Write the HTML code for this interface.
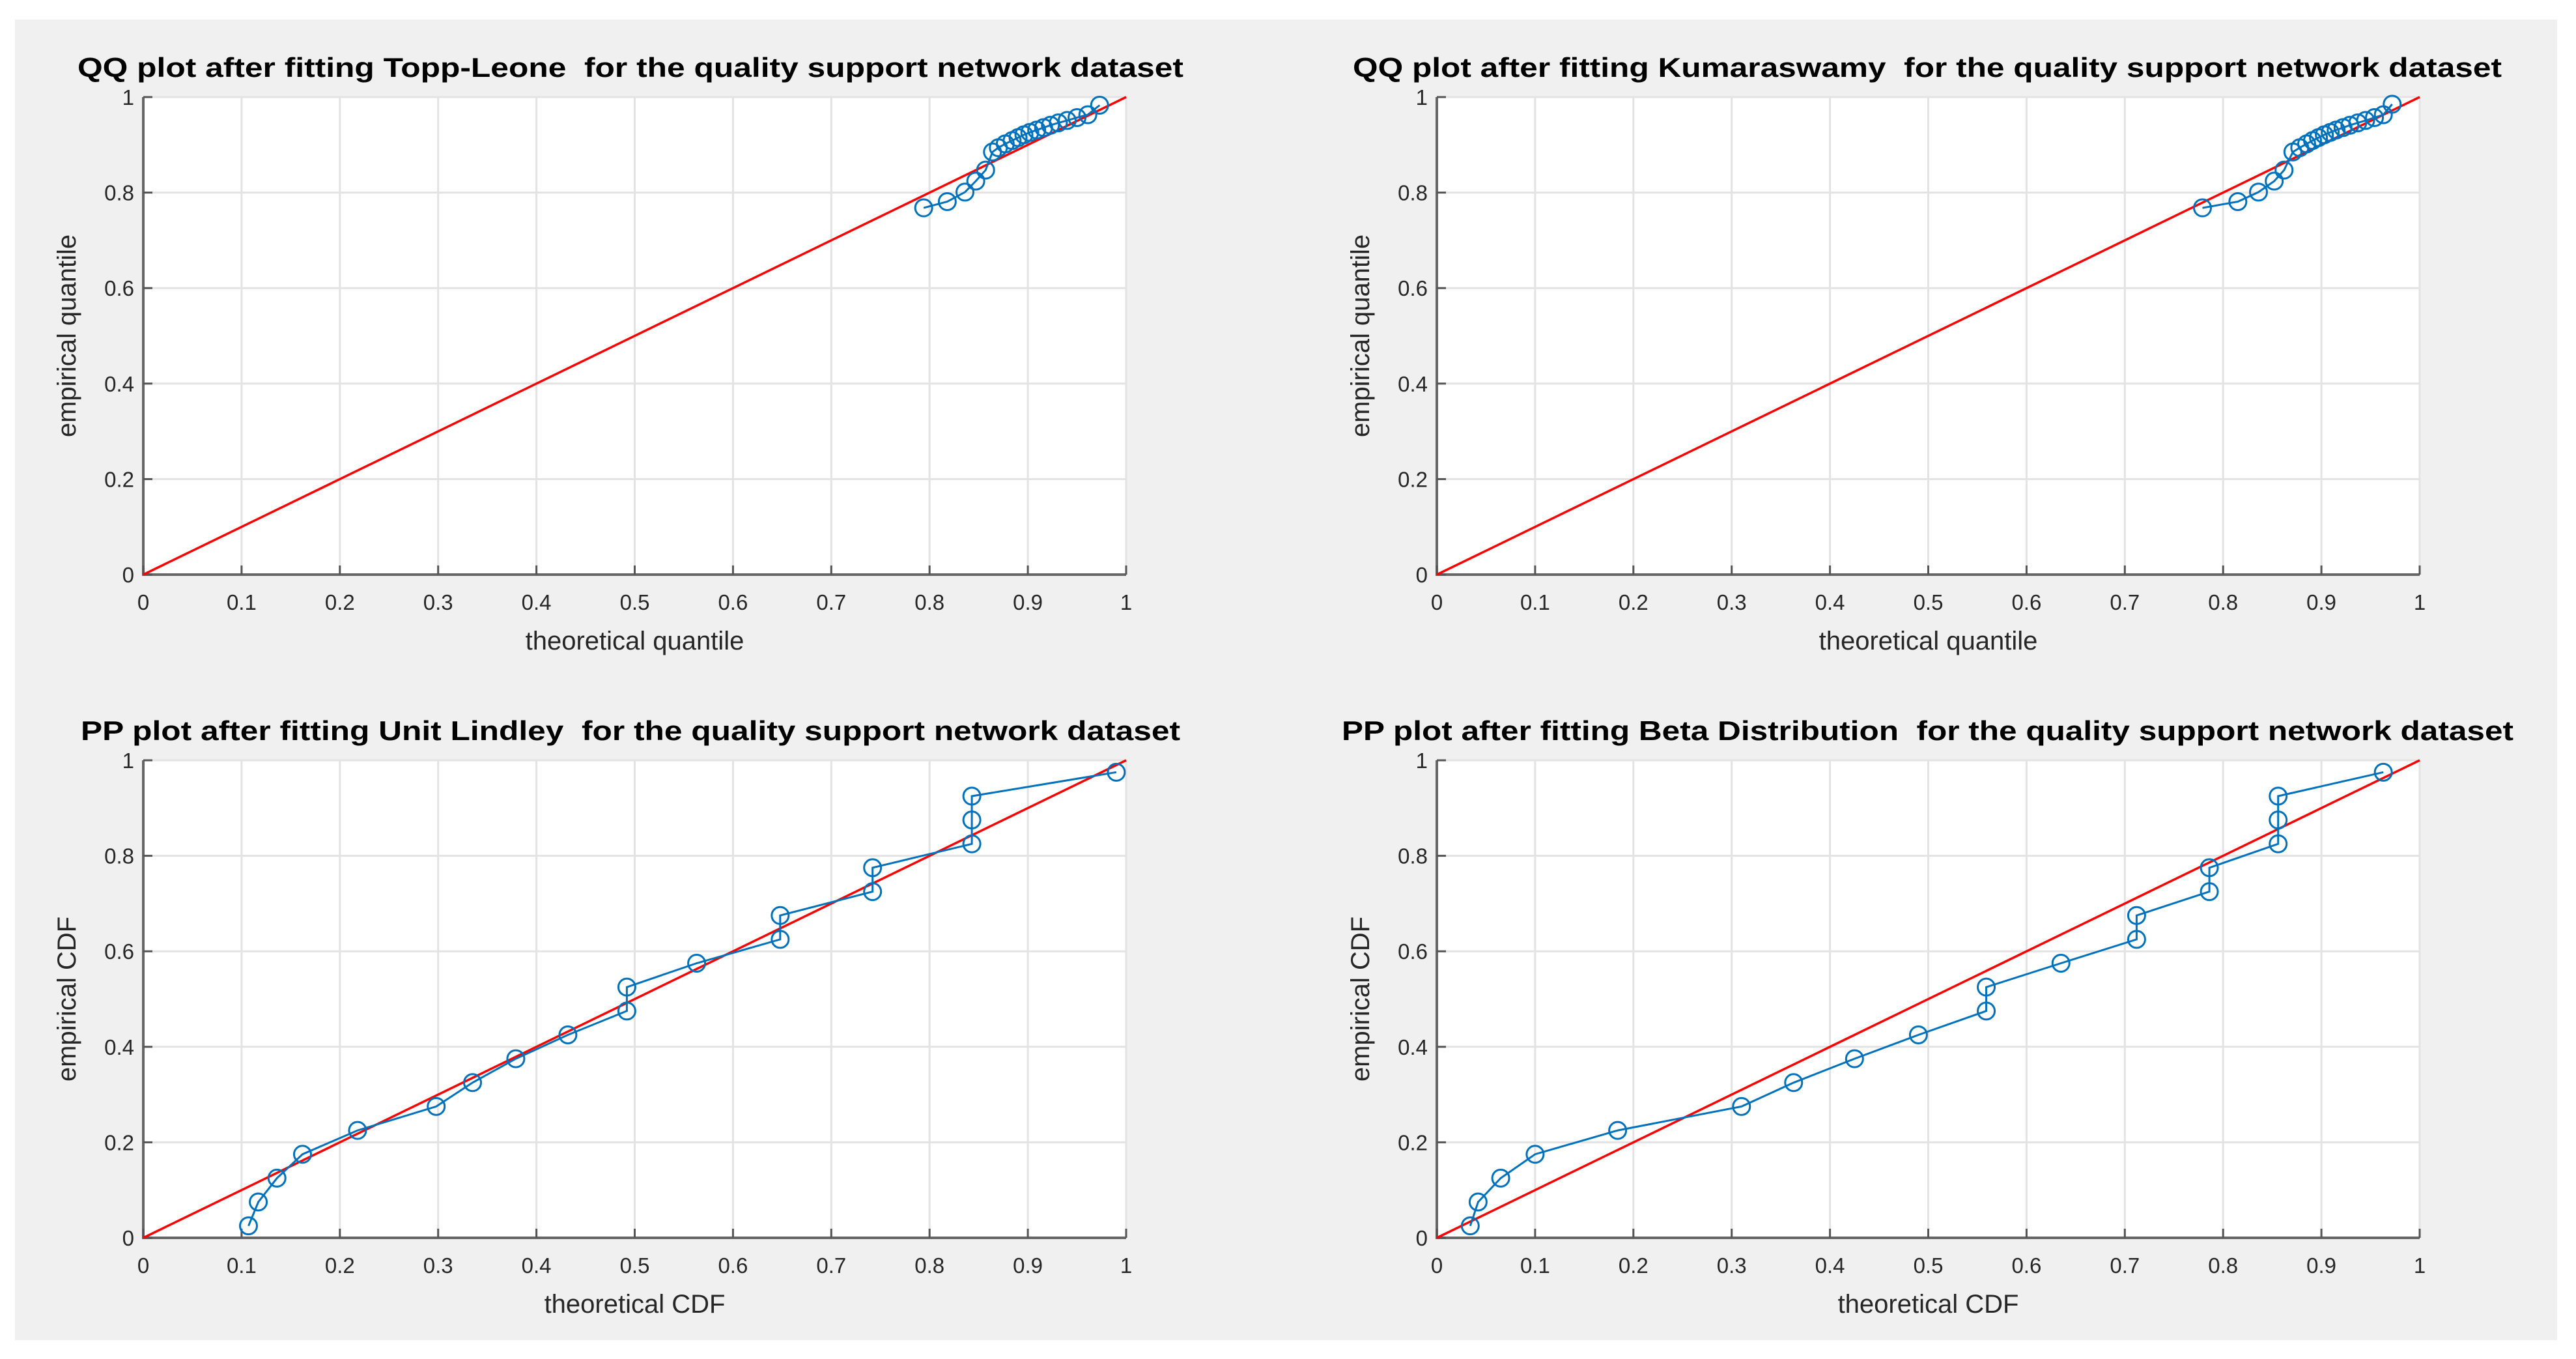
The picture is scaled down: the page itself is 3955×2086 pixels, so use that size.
<!DOCTYPE html>
<html><head><meta charset="utf-8"><style>
html,body{margin:0;padding:0;background:#fff;}
svg{display:block;font-family:"Liberation Sans",Arial,sans-serif;}
</style></head><body>
<svg id="fig" width="3955" height="2086" viewBox="0 0 3955 2086" xmlns="http://www.w3.org/2000/svg">
<rect x="0" y="0" width="3955" height="2086" fill="#ffffff"/>
<rect x="23" y="30" width="3903" height="2027" fill="#f0f0f0"/>
</svg>
<script>
// ---- data ----
const tlTheoretical = [0.794,0.818,0.836,0.847,0.857,0.864,0.870,0.877,0.884,0.890,0.896,0.902,0.909,0.916,0.923,0.931,0.940,0.950,0.961,0.973];
const tlEmpirical   = [0.768,0.781,0.801,0.824,0.847,0.885,0.894,0.902,0.909,0.915,0.921,0.926,0.931,0.936,0.941,0.946,0.951,0.957,0.963,0.983];
const trTheoretical = [0.779,0.815,0.836,0.852,0.862,0.871,0.878,0.885,0.891,0.897,0.903,0.909,0.915,0.922,0.929,0.937,0.945,0.954,0.963,0.972];
const trEmpirical   = [0.768,0.781,0.801,0.824,0.847,0.885,0.894,0.902,0.909,0.915,0.921,0.926,0.931,0.936,0.941,0.946,0.951,0.957,0.963,0.985];
const blTheoretical = [0.107,0.117,0.136,0.162,0.218,0.298,0.335,0.379,0.432,0.492,0.492,0.563,0.648,0.648,0.742,0.742,0.843,0.843,0.843,0.990];
const blEmpirical   = [0.025,0.075,0.125,0.175,0.225,0.275,0.325,0.375,0.425,0.475,0.525,0.575,0.625,0.675,0.725,0.775,0.825,0.875,0.925,0.975];
const brTheoretical = [0.034,0.042,0.065,0.100,0.184,0.310,0.363,0.425,0.490,0.559,0.559,0.635,0.712,0.712,0.786,0.786,0.856,0.856,0.856,0.963];
const brEmpirical   = [0.025,0.075,0.125,0.175,0.225,0.275,0.325,0.375,0.425,0.475,0.525,0.575,0.625,0.675,0.725,0.775,0.825,0.875,0.925,0.975];
const xTicks = [0,0.1,0.2,0.3,0.4,0.5,0.6,0.7,0.8,0.9,1];
const xTickLabels = ["0","0.1","0.2","0.3","0.4","0.5","0.6","0.7","0.8","0.9","1"];
const yTicks = [0,0.2,0.4,0.6,0.8,1];
const yTickLabels = ["0","0.2","0.4","0.6","0.8","1"];

const NS="http://www.w3.org/2000/svg";
const fig=document.getElementById('fig');
function mk(tag,attrs,parent){const e=document.createElementNS(NS,tag);for(const k in attrs)e.setAttribute(k,attrs[k]);(parent||fig).appendChild(e);return e;}

const panels=[
 {id:'qq-topp-leone',L:220,T:149,title:'QQ plot after fitting Topp-Leone \u00a0for the quality support network dataset',tx0:119,tx1:1817,xl:'theoretical quantile',yl:'empirical quantile',xs:tlTheoretical,ys:tlEmpirical},
 {id:'qq-kumaraswamy',L:2206,T:149,title:'QQ plot after fitting Kumaraswamy \u00a0for the quality support network dataset',tx0:2077,tx1:3841,xl:'theoretical quantile',yl:'empirical quantile',xs:trTheoretical,ys:trEmpirical},
 {id:'pp-unit-lindley',L:220,T:1167,title:'PP plot after fitting Unit Lindley \u00a0for the quality support network dataset',tx0:124,tx1:1812,xl:'theoretical CDF',yl:'empirical CDF',xs:blTheoretical,ys:blEmpirical},
 {id:'pp-beta',L:2206,T:1167,title:'PP plot after fitting Beta Distribution \u00a0for the quality support network dataset',tx0:2060,tx1:3859,xl:'theoretical CDF',yl:'empirical CDF',xs:brTheoretical,ys:brEmpirical}
];
const W=1509,H=733;

panels.forEach(p=>{
  const g=mk('g',{});
  
  
  const sx=v=>p.L+v*W, sy=v=>p.T+H-v*H;
  const bg=mk('rect',{x:p.L,y:p.T,width:W,height:H,fill:'#fff'},g);
  
  
  xTicks.forEach(t=>{const l=mk('line',{x1:sx(t),y1:p.T,x2:sx(t),y2:p.T+H,stroke:'#e3e3e3','stroke-width':3},g);
    
    });
  yTicks.forEach(t=>{const l=mk('line',{x1:p.L,y1:sy(t),x2:p.L+W,y2:sy(t),stroke:'#e3e3e3','stroke-width':3},g);
    
    });
  const ax=mk('path',{d:`M${p.L},${p.T} L${p.L},${p.T+H} L${p.L+W},${p.T+H}`,fill:'none',stroke:'#666','stroke-width':4},g);
  
  
  xTicks.forEach((t,i)=>{
    mk('line',{x1:sx(t),y1:p.T+H,x2:sx(t),y2:p.T+H-14,stroke:'#555','stroke-width':3},g);
    const tx=mk('text',{x:sx(t),y:p.T+H+54,'font-size':33,'text-anchor':'middle',fill:'#262626'},g);
    tx.textContent=xTickLabels[i];
    
    
  });
  yTicks.forEach((t,i)=>{
    mk('line',{x1:p.L,y1:sy(t),x2:p.L+14,y2:sy(t),stroke:'#555','stroke-width':3},g);
    const tx=mk('text',{x:p.L-14,y:sy(t)+12,'font-size':33,'text-anchor':'end',fill:'#262626'},g);
    tx.textContent=yTickLabels[i];
    
    
  });
  const ref=mk('line',{x1:sx(0),y1:sy(0),x2:sx(1),y2:sy(1),stroke:'#ff0000','stroke-width':3.5},g);
  
  
  const pts=p.xs.map((v,i)=>sx(v).toFixed(1)+','+sy(p.ys[i]).toFixed(1)).join(' ');
  const pl=mk('polyline',{points:pts,fill:'none',stroke:'#0072bd','stroke-width':3},g);
  
  
  p.xs.forEach((v,i)=>{
    const c=mk('circle',{cx:sx(v),cy:sy(p.ys[i]),r:13,fill:'none',stroke:'#0072bd','stroke-width':3},g);
    
    
  });
  const ti=mk('text',{x:p.tx0,y:p.T-31,'font-size':42,'font-weight':'bold',fill:'#000',textLength:p.tx1-p.tx0,lengthAdjust:'spacingAndGlyphs'},g);
  ti.textContent=p.title;
  
  
  const xl=mk('text',{x:p.L+W/2,y:p.T+H+115,'font-size':40,'text-anchor':'middle',fill:'#262626'},g);
  xl.textContent=p.xl;
  
  
  const yl=mk('text',{x:0,y:0,'font-size':40,'text-anchor':'middle',fill:'#262626',transform:`translate(${p.L-104},${p.T+H/2}) rotate(-90)`},g);
  yl.textContent=p.yl;
  
  
});
</script>
</body></html>
